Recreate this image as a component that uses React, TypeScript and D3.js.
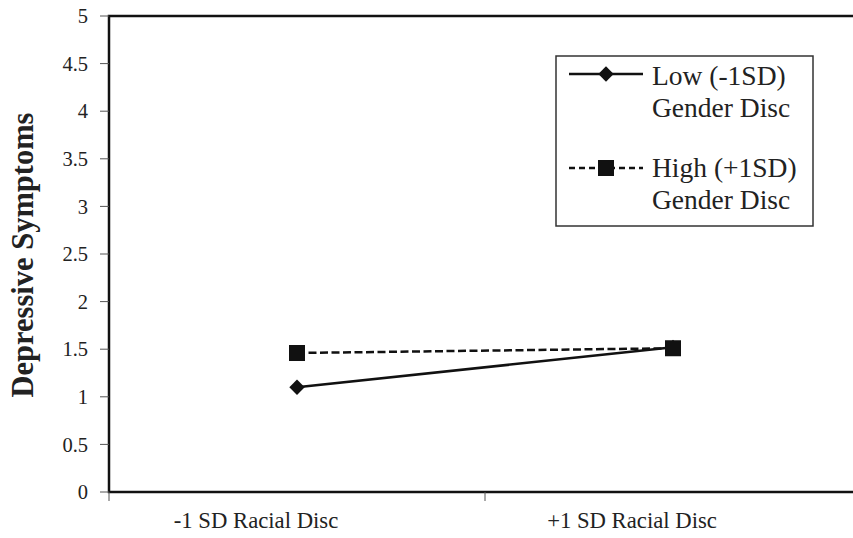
import React from "react";
import * as d3 from "d3";

const categories = ["-1 SD Racial Disc", "+1 SD Racial Disc"];
const lowGender = [1.1, 1.52];
const highGender = [1.46, 1.51];
const yTicks = [0, 0.5, 1, 1.5, 2, 2.5, 3, 3.5, 4, 4.5, 5];
const seriesNames = [
  ["Low (-1SD)", "Gender Disc"],
  ["High (+1SD)", "Gender Disc"],
];

const W = 853;
const H = 538;
const left = 109;
const top = 16;
const bottom = 492;
const bandW = 376;

export default function App() {
  const x = d3.scaleBand<string>().domain(categories).range([left, left + bandW * categories.length]).padding(0);
  const y = d3.scaleLinear().domain([0, 5]).range([bottom, top]);
  const cx = (c: string) => (x(c) as number) + x.bandwidth() / 2;
  const line = d3
    .line<[number, number]>()
    .x((d) => d[0])
    .y((d) => d[1]);
  const lowPts: [number, number][] = categories.map((c, i) => [cx(c), y(lowGender[i])]);
  const highPts: [number, number][] = categories.map((c, i) => [cx(c), y(highGender[i])]);
  const font = "Liberation Serif";
  const diamond = d3.symbol().type(d3.symbolDiamond2).size(150)();
  const sq = 16;
  const xTickPos = categories.map((c) => x(c) as number).concat([left + bandW * categories.length]);

  const lgX = 556;
  const lgY = 56;

  return (
    <div style={{ position: "absolute", left: 0, top: 0 }}>
      <svg width={W} height={H} style={{ display: "block", background: "#fff" }}>
        {/* frame */}
        <rect x={left} y={top} width={bandW * 2} height={bottom - top} fill="none" stroke="#111" strokeWidth={2.5} />
        {/* y ticks */}
        {yTicks.map((t) => (
          <g key={t}>
            <line x1={left - 9} x2={left} y1={y(t)} y2={y(t)} stroke="#555" strokeWidth={1} />
            <text x={88} y={y(t)} dy="0.35em" textAnchor="end" fontFamily={font} fontSize={20.5} fill="#222">
              {t}
            </text>
          </g>
        ))}
        {/* x ticks */}
        {xTickPos.map((p, i) => (
          <line key={i} x1={p} x2={p} y1={bottom} y2={bottom + 9} stroke="#555" strokeWidth={1} />
        ))}
        {categories.map((c) => (
          <text key={c} x={cx(c) - 41} y={528} textAnchor="middle" fontFamily={font} fontSize={22.7} fill="#222">
            {c}
          </text>
        ))}
        {/* y title */}
        <text
          transform={`translate(33,255) rotate(-90)`}
          textAnchor="middle"
          fontFamily={font}
          fontWeight="bold"
          fontSize={30.5}
          fill="#222"
        >
          Depressive Symptoms
        </text>
        {/* series */}
        <path d={line(highPts) || ""} fill="none" stroke="#111" strokeWidth={2.5} strokeDasharray="8,3.5" />
        <path d={line(lowPts) || ""} fill="none" stroke="#111" strokeWidth={2.5} />
        {lowPts.map((p, i) => (
          <path key={"l" + i} d={diamond || ""} transform={`translate(${p[0]},${p[1]})`} fill="#111" />
        ))}
        {highPts.map((p, i) => (
          <rect key={"h" + i} x={p[0] - sq / 2} y={p[1] - sq / 2} width={sq} height={sq} fill="#111" />
        ))}
        {/* legend */}
        <rect x={lgX} y={lgY} width={257} height={170} fill="#fff" stroke="#333" strokeWidth={1.5} />
        <line x1={569} x2={643} y1={74} y2={74} stroke="#111" strokeWidth={2.5} />
        <path d={diamond || ""} transform={`translate(606,74)`} fill="#111" />
        <line x1={569} x2={643} y1={168} y2={168} stroke="#111" strokeWidth={2.5} strokeDasharray="6,4" />
        <rect x={606 - 8} y={168 - 8} width={16} height={16} fill="#111" />
        {seriesNames.map((nm, i) => (
          <g key={i}>
            <text x={652} y={i === 0 ? 85 : 177} fontFamily={font} fontSize={27.5} fill="#222">
              {nm[0]}
            </text>
            <text x={652} y={i === 0 ? 117 : 209} fontFamily={font} fontSize={27.5} fill="#222">
              {nm[1]}
            </text>
          </g>
        ))}
      </svg>
    </div>
  );
}
